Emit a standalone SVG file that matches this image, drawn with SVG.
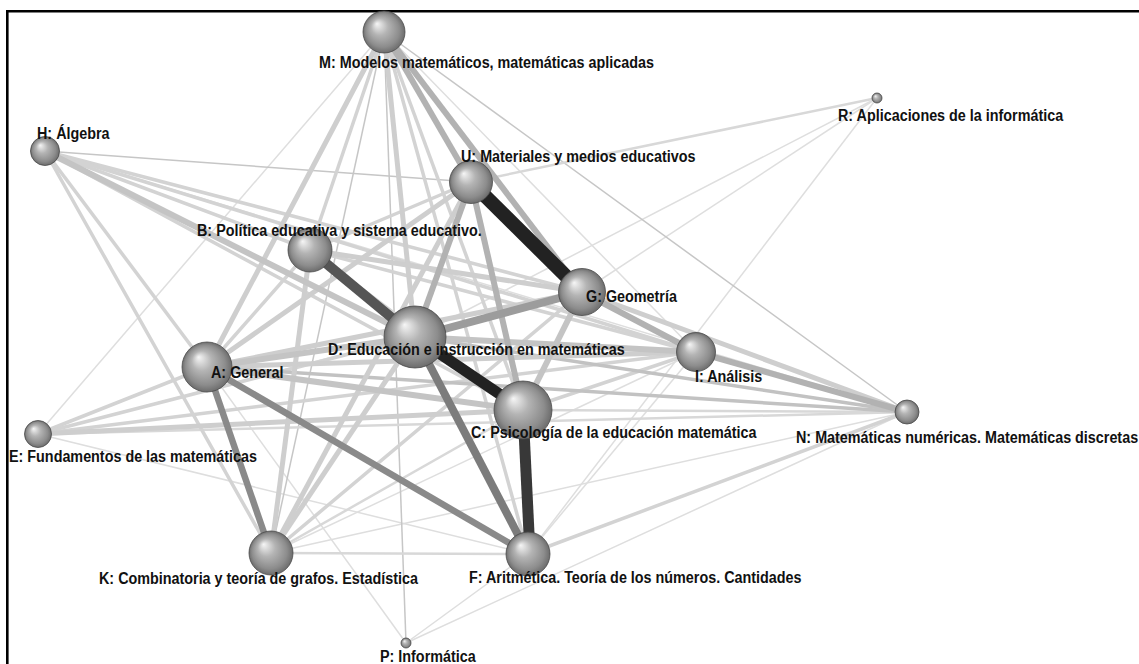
<svg xmlns="http://www.w3.org/2000/svg" width="1139" height="664" viewBox="0 0 1139 664">
<defs>
<radialGradient id="sph" cx="0.5" cy="0.5" r="0.5" fx="0.33" fy="0.3">
<stop offset="0" stop-color="#f6f6f6"/>
<stop offset="0.4" stop-color="#b4b4b4"/>
<stop offset="0.8" stop-color="#8c8c8c"/>
<stop offset="1" stop-color="#6c6c6c"/>
</radialGradient>
</defs>
<style>
.e line{fill:none;stroke-linecap:butt}
.w1{stroke:#dedede;stroke-width:1.5}
.w1g{stroke:#c6c6c6;stroke-width:1.5}
.w2{stroke:#d8d8d8;stroke-width:2.5}
.w3{stroke:#d3d3d3;stroke-width:3.5}
.w3d{stroke:#c2c2c2;stroke-width:3.5}
.w4{stroke:#cecece;stroke-width:5}
.w5{stroke:#c4c4c4;stroke-width:6}
.w6{stroke:#b2b2b2;stroke-width:6}
.w7{stroke:#9c9c9c;stroke-width:8}
.w8{stroke:#8a8a8a;stroke-width:6.5}
.w9{stroke:#7c7c7c;stroke-width:8}
.w10{stroke:#555555;stroke-width:10}
.w11{stroke:#383838;stroke-width:11}
.w12{stroke:#222222;stroke-width:14}
.n circle{fill:url(#sph);stroke:#4a4a4a;stroke-width:0.8}
.n text{font-family:"Liberation Sans",Arial,sans-serif;font-weight:bold;font-size:17px;fill:#111}
.frame{stroke:#000;stroke-width:2.6;fill:none}
</style>
<rect width="1139" height="664" fill="#fff"/>
<path class="frame" d="M7.3 664 V11.3 H1139"/>
<g id="connectors" class="e">
<line class="w1" x1="384" y1="32" x2="38" y2="434"/>
<line class="w1" x1="384" y1="32" x2="696" y2="352"/>
<line class="w1" x1="38" y1="434" x2="528" y2="554"/>
<line class="w1" x1="38" y1="434" x2="582" y2="292"/>
<line class="w1" x1="406" y1="643" x2="207" y2="367"/>
<line class="w1" x1="406" y1="643" x2="528" y2="554"/>
<line class="w1" x1="406" y1="643" x2="907" y2="412"/>
<line class="w1" x1="877" y1="98" x2="415" y2="337"/>
<line class="w1" x1="877" y1="98" x2="582" y2="292"/>
<line class="w1" x1="877" y1="98" x2="528" y2="554"/>
<line class="w1" x1="271" y1="553" x2="907" y2="412"/>
<line class="w1" x1="271" y1="553" x2="696" y2="352"/>
<line class="w1" x1="696" y1="352" x2="528" y2="554"/>
<line class="w1" x1="45" y1="151" x2="907" y2="412"/>
<line class="w1g" x1="45" y1="151" x2="471" y2="182"/>
<line class="w1g" x1="384" y1="32" x2="271" y2="553"/>
<line class="w1g" x1="384" y1="32" x2="406" y2="643"/>
<line class="w1g" x1="384" y1="32" x2="907" y2="412"/>
<line class="w2" x1="877" y1="98" x2="471" y2="182"/>
<line class="w2" x1="271" y1="553" x2="528" y2="554"/>
<line class="w2" x1="38" y1="434" x2="907" y2="412"/>
<line class="w2" x1="523" y1="410" x2="907" y2="412"/>
<line class="w2" x1="271" y1="553" x2="523" y2="410"/>
<line class="w3" x1="45" y1="151" x2="271" y2="553"/>
<line class="w3" x1="45" y1="151" x2="207" y2="367"/>
<line class="w3" x1="384" y1="32" x2="528" y2="554"/>
<line class="w3" x1="384" y1="32" x2="523" y2="410"/>
<line class="w3" x1="384" y1="32" x2="310" y2="250"/>
<line class="w3" x1="45" y1="151" x2="582" y2="292"/>
<line class="w3" x1="45" y1="151" x2="696" y2="352"/>
<line class="w3" x1="45" y1="151" x2="310" y2="250"/>
<line class="w3" x1="45" y1="151" x2="523" y2="410"/>
<line class="w3" x1="38" y1="434" x2="207" y2="367"/>
<line class="w3" x1="38" y1="434" x2="415" y2="337"/>
<line class="w3" x1="38" y1="434" x2="696" y2="352"/>
<line class="w3" x1="207" y1="367" x2="310" y2="250"/>
<line class="w3" x1="271" y1="553" x2="582" y2="292"/>
<line class="w3" x1="310" y1="250" x2="696" y2="352"/>
<line class="w3" x1="310" y1="250" x2="523" y2="410"/>
<line class="w3" x1="310" y1="250" x2="471" y2="182"/>
<line class="w3" x1="696" y1="352" x2="523" y2="410"/>
<line class="w3" x1="528" y1="554" x2="907" y2="412"/>
<line class="w3d" x1="415" y1="337" x2="907" y2="412"/>
<line class="w3d" x1="207" y1="367" x2="907" y2="412"/>
<line class="w4" x1="384" y1="32" x2="207" y2="367"/>
<line class="w4" x1="384" y1="32" x2="415" y2="337"/>
<line class="w4" x1="38" y1="434" x2="523" y2="410"/>
<line class="w4" x1="207" y1="367" x2="471" y2="182"/>
<line class="w4" x1="207" y1="367" x2="582" y2="292"/>
<line class="w4" x1="207" y1="367" x2="696" y2="352"/>
<line class="w4" x1="271" y1="553" x2="310" y2="250"/>
<line class="w4" x1="271" y1="553" x2="415" y2="337"/>
<line class="w4" x1="271" y1="553" x2="471" y2="182"/>
<line class="w4" x1="310" y1="250" x2="582" y2="292"/>
<line class="w4" x1="582" y1="292" x2="907" y2="412"/>
<line class="w5" x1="207" y1="367" x2="415" y2="337"/>
<line class="w5" x1="207" y1="367" x2="523" y2="410"/>
<line class="w5" x1="415" y1="337" x2="696" y2="352"/>
<line class="w5" x1="582" y1="292" x2="523" y2="410"/>
<line class="w5" x1="45" y1="151" x2="415" y2="337"/>
<line class="w6" x1="384" y1="32" x2="471" y2="182"/>
<line class="w6" x1="384" y1="32" x2="582" y2="292"/>
<line class="w6" x1="582" y1="292" x2="696" y2="352"/>
<line class="w6" x1="696" y1="352" x2="907" y2="412"/>
<line class="w6" x1="471" y1="182" x2="415" y2="337"/>
<line class="w6" x1="471" y1="182" x2="523" y2="410"/>
<line class="w7" x1="415" y1="337" x2="582" y2="292"/>
<line class="w8" x1="207" y1="367" x2="271" y2="553"/>
<line class="w8" x1="207" y1="367" x2="528" y2="554"/>
<line class="w9" x1="415" y1="337" x2="528" y2="554"/>
<line class="w10" x1="310" y1="250" x2="415" y2="337"/>
<line class="w11" x1="523" y1="410" x2="530" y2="554"/>
<line class="w11" x1="415" y1="337" x2="523" y2="410" style="stroke:#222"/>
<line class="w12" x1="471" y1="182" x2="582" y2="292"/>
</g>
<g id="node-M" class="n"><circle cx="384" cy="32" r="21"/><text transform="translate(319,68) scale(0.845,1)">M: Modelos matemáticos, matemáticas aplicadas</text></g>
<g id="node-R" class="n"><circle cx="877" cy="98" r="5"/><text transform="translate(838,121) scale(0.845,1)">R: Aplicaciones de la informática</text></g>
<g id="node-H" class="n"><circle cx="45" cy="151" r="14.5"/><text transform="translate(37,139) scale(0.845,1)">H: Álgebra</text></g>
<g id="node-U" class="n"><circle cx="471" cy="182" r="21.5"/><text transform="translate(461,162) scale(0.845,1)">U: Materiales y medios educativos</text></g>
<g id="node-B" class="n"><circle cx="310" cy="250" r="22"/><text transform="translate(197,236) scale(0.845,1)">B: Política educativa y sistema educativo.</text></g>
<g id="node-G" class="n"><circle cx="582" cy="292" r="23.5"/><text transform="translate(586,302) scale(0.845,1)">G: Geometría</text></g>
<g id="node-D" class="n"><circle cx="415" cy="337" r="31"/><text transform="translate(328,355) scale(0.845,1)">D: Educación e instrucción en matemáticas</text></g>
<g id="node-A" class="n"><circle cx="207" cy="367" r="25"/><text transform="translate(211,378) scale(0.845,1)">A: General</text></g>
<g id="node-I" class="n"><circle cx="696" cy="352" r="19.5"/><text transform="translate(695,382) scale(0.845,1)">I: Análisis</text></g>
<g id="node-C" class="n"><circle cx="523" cy="410" r="29"/><text transform="translate(471,438) scale(0.845,1)">C: Psicología de la educación matemática</text></g>
<g id="node-E" class="n"><circle cx="38" cy="434" r="13.5"/><text transform="translate(9,462) scale(0.845,1)">E: Fundamentos de las matemáticas</text></g>
<g id="node-N" class="n"><circle cx="907" cy="412" r="12"/><text transform="translate(796,443) scale(0.845,1)">N: Matemáticas numéricas. Matemáticas discretas</text></g>
<g id="node-K" class="n"><circle cx="271" cy="553" r="22"/><text transform="translate(99,584) scale(0.845,1)">K: Combinatoria y teoría de grafos. Estadística</text></g>
<g id="node-F" class="n"><circle cx="528" cy="554" r="22"/><text transform="translate(469,583) scale(0.845,1)">F: Aritmética. Teoría de los números. Cantidades</text></g>
<g id="node-P" class="n"><circle cx="406" cy="643" r="5"/><text transform="translate(380,662) scale(0.845,1)">P: Informática</text></g>
</svg>
